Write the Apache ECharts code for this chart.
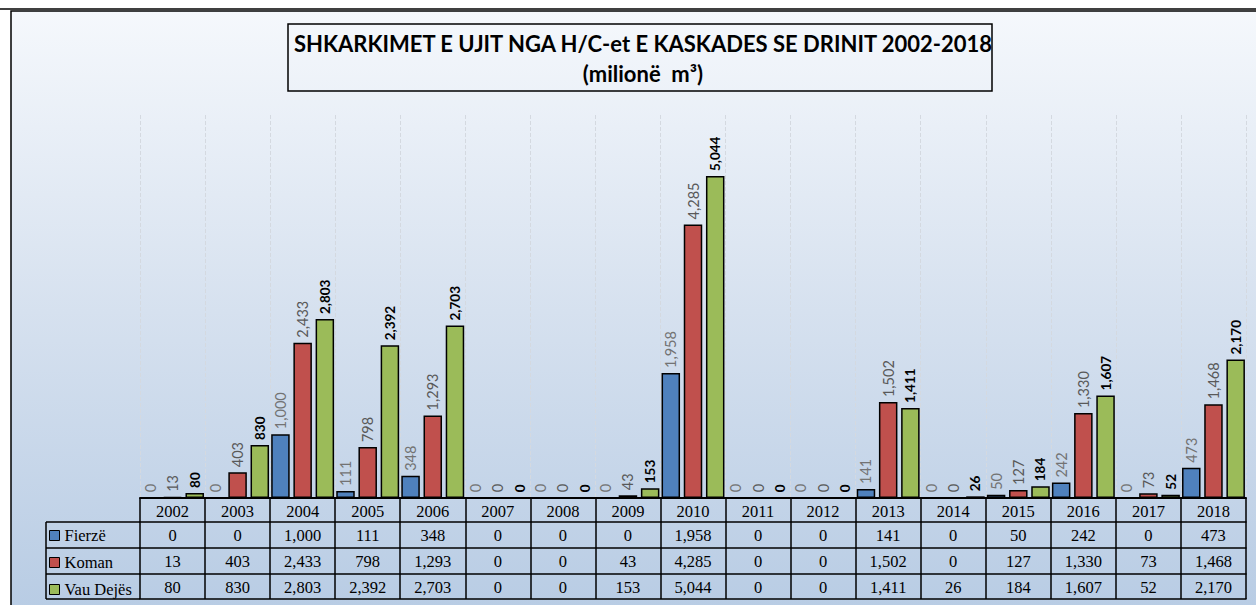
<!DOCTYPE html>
<html>
<head>
<meta charset="utf-8">
<script src="https://cdn.jsdelivr.net/npm/echarts@6/dist/echarts.min.js"></script>
<style>
html,body{margin:0;padding:0;background:#fff;}
#chart{width:1256px;height:605px;}
</style>
</head>
<body>
<div id="chart"></div>
<script>
const years = ['2002','2003','2004','2005','2006','2007','2008','2009','2010','2011','2012','2013','2014','2015','2016','2017','2018'];
const seriesNames = ['Fierzë', 'Koman', 'Vau Dejës'];
const fierze   = [0, 0, 1000, 111, 348, 0, 0, 0, 1958, 0, 0, 141, 0, 50, 242, 0, 473];
const koman    = [13, 403, 2433, 798, 1293, 0, 0, 43, 4285, 0, 0, 1502, 0, 127, 1330, 73, 1468];
const vauDejes = [80, 830, 2803, 2392, 2703, 0, 0, 153, 5044, 0, 0, 1411, 26, 184, 1607, 52, 2170];
const titleLine1 = 'SHKARKIMET E UJIT NGA H/C-et E KASKADES SE DRINIT 2002-2018';
const titleLine2 = '(milionë  m³)';

const fmt = v => Number(v).toLocaleString('en-US');
const serif = '"Liberation Serif", "Times New Roman", serif';
const sans = 'Lato, "Open Sans", sans-serif';
const colors = ['#4F81BD', '#C0504D', '#9BBB59'];
const dataSets = [fierze, koman, vauDejes];

const chart = echarts.init(document.getElementById('chart'), null, {renderer: 'svg'});

function tableAxis(offset, rowH, arr) {
  return {
    type: 'category', data: years, position: 'bottom', offset: offset, gridIndex: 0,
    axisLine: {show: true, lineStyle: {color: '#000', width: 1.5}},
    axisTick: {show: true, interval: 0, length: rowH, lineStyle: {color: '#000', width: 1.5}},
    axisLabel: {show: !!arr, interval: 0, margin: 5, fontFamily: serif, fontSize: 16.5, color: '#000',
      formatter: (val, idx) => arr ? fmt(arr[idx]) : ''},
    splitLine: {show: false}
  };
}

const labelStyles = [
  {color: '#737373', fontSize: 14.5, fontWeight: 'normal'},
  {color: '#595959', fontSize: 14.5, fontWeight: 'normal'},
  {color: '#000000', fontSize: 13.5, fontWeight: 'bold'}
];

const option = {
  animation: false,
  title: {
    text: titleLine1 + '\n' + titleLine2,
    left: 638, top: 23, textAlign: 'center',
    textStyle: {fontFamily: sans, fontSize: 22, fontWeight: 'bold', color: '#000', lineHeight: 30}
  },
  legend: {
    data: seriesNames, orient: 'vertical', left: 49, top: 527, padding: 0,
    itemWidth: 10, itemHeight: 10, itemGap: 10, icon: 'rect', selectedMode: false,
    itemStyle: {borderColor: '#000', borderWidth: 1},
    textStyle: {fontFamily: serif, fontSize: 16.5, color: '#000', lineHeight: 16, height: 16, verticalAlign: 'middle'}
  },
  grid: {left: 140, right: 10, top: 115, bottom: 107, containLabel: false},
  xAxis: [
    {
      type: 'category', data: years, position: 'bottom', offset: 0,
      axisLine: {show: true, lineStyle: {color: '#000', width: 2}},
      axisTick: {show: true, interval: 0, length: 24, lineStyle: {color: '#000', width: 1.5}},
      axisLabel: {interval: 0, margin: 5, fontFamily: serif, fontSize: 16.5, color: '#000'},
      splitLine: {show: true, interval: 0, lineStyle: {color: '#d4d9e0', type: 'dashed', width: 1}}
    },
    tableAxis(24, 26, fierze),
    tableAxis(50, 26, koman),
    tableAxis(76, 25, vauDejes),
    tableAxis(101, 0, null)
  ],
  yAxis: {type: 'value', min: 0, max: 6000, show: false, splitLine: {show: false}},
  series: seriesNames.map((name, i) => ({
    name: name, type: 'bar', xAxisIndex: 0, data: dataSets[i],
    barWidth: 18.5, barGap: '20%',
    itemStyle: {color: colors[i], borderColor: '#000', borderWidth: 1.5},
    label: {
      show: true, position: 'top', rotate: 90, align: 'left', verticalAlign: 'middle', distance: 5,
      fontFamily: sans, fontSize: labelStyles[i].fontSize, fontWeight: labelStyles[i].fontWeight,
      color: labelStyles[i].color, formatter: p => fmt(p.value)
    }
  })),
  graphic: [
    {type: 'rect', z: -100, silent: true, shape: {x: 11, y: 11, width: 1260, height: 600},
      style: {fill: new echarts.graphic.LinearGradient(0, 0, 0, 1, [
        {offset: 0, color: '#f5f8fc'}, {offset: 0.5, color: '#d6e1ef'}, {offset: 1, color: '#b8cce4'}]),
        stroke: '#000', lineWidth: 1.5}},
    {type: 'line', silent: true, shape: {x1: 0, y1: 9, x2: 1256, y2: 9}, style: {stroke: '#000', lineWidth: 1.5}},
    {type: 'rect', silent: true, shape: {x: 288, y: 24, width: 704, height: 67},
      style: {fill: 'none', stroke: '#000', lineWidth: 1.5}},
    {type: 'line', silent: true, shape: {x1: 46, y1: 522, x2: 140, y2: 522}, style: {stroke: '#000', lineWidth: 1.5}},
    {type: 'line', silent: true, shape: {x1: 46, y1: 548, x2: 140, y2: 548}, style: {stroke: '#000', lineWidth: 1.5}},
    {type: 'line', silent: true, shape: {x1: 46, y1: 574, x2: 140, y2: 574}, style: {stroke: '#000', lineWidth: 1.5}},
    {type: 'line', silent: true, shape: {x1: 46, y1: 599, x2: 140, y2: 599}, style: {stroke: '#000', lineWidth: 1.5}},
    {type: 'line', silent: true, shape: {x1: 46, y1: 522, x2: 46, y2: 599}, style: {stroke: '#000', lineWidth: 1.5}}
  ]
};
chart.setOption(option);
</script>
</body>
</html>
